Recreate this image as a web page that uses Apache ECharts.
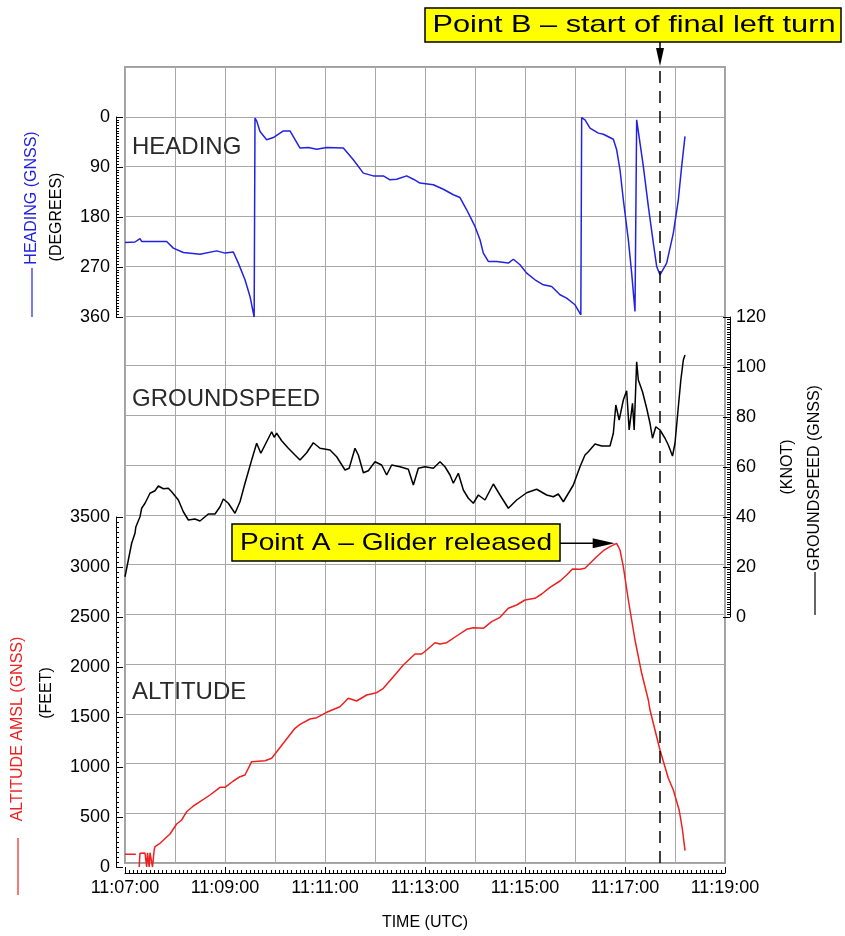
<!DOCTYPE html>
<html><head><meta charset="utf-8">
<script src="https://cdn.jsdelivr.net/npm/echarts@6/dist/echarts.min.js"></script>
<style>html,body{margin:0;padding:0;background:#fff}#c{width:845px;height:936px}</style>
</head><body><div id="c"></div>
<script>
// ---- tick labels ----
const timeTickLabels = ['11:07:00','11:09:00','11:11:00','11:13:00','11:15:00','11:17:00','11:19:00'];
// all times: seconds after 11:07:00
// ---- HEADING (GNSS), degrees ----
const headingSec = [0,12,18,20,50,58,70,90,110,120,130,136,144,150,155,156,158,162,170,178,190,198,210,220,230,242,262,274,286,298,310,318,326,338,346,354,370,382,394,402,410,420,426,430,436,446,460,466,474,482,492,502,512,522,530,540,547,548,552,558,568,574,586,590,594,598,604,608,612,614,616,618,622,628,634,638,642,650,658,664,668,672];
const headingDeg = [226,225,219,224,224,236,244,247,241,245,243,263,293,323,360,2,7,26,41,37,25,25,56,55,58,55,56,77,101,106,106,113,112,106,112,119,122,130,140,145,167,197,221,245,260,260,263,256,266,281,293,302,305,320,326,338,356,1,5,20,29,31,40,59,95,149,221,281,350,5,26,29,89,161,227,269,284,263,209,149,89,35];
// ---- GROUNDSPEED (GNSS), knots ----
const gsSec = [0,4,8,12,13,18,20,24,30,36,40,46,52,56,64,70,76,84,90,100,108,114,118,124,132,138,144,152,158,163,168,176,179,182,188,196,204,210,218,226,234,246,254,264,269,276,280,286,292,300,308,314,320,330,340,346,352,360,362,370,378,384,390,394,400,406,412,418,424,432,442,450,460,470,482,494,506,514,520,526,538,546,552,556,564,572,582,586,589,593,598,602,605,609,611,614,616,621,626,630,633,637,642,648,652,657,660,664,667,670,672];
const gsKnot = [16.1,22.8,29.5,33.5,36,40.1,43.5,45.5,49.5,50.5,52.4,51.3,51.5,50.1,46.8,42.1,38.8,39.2,38.4,41.2,41.2,44.1,47.2,45.5,41.5,46.1,53.5,62.8,69.5,65.5,68.8,74.1,71.9,73.5,70.5,67.5,64.8,62.8,65.7,69.7,67.5,66.8,64.1,58.8,59.5,67.5,64.8,57.7,58.5,62.1,60.8,56.8,60.8,60.1,59.1,52.8,59.5,60.1,59.5,59.5,62.1,60.1,56.8,53.5,57.5,50.8,47.5,45.5,48.8,46.8,53.2,48.8,43.5,46.8,49.7,51.1,48.8,48.1,49.2,46.1,52.8,60.1,64.8,66.1,69.2,68.4,68.4,73.5,84.8,78.8,86.8,90.5,74.8,85.5,74.8,102.1,94.8,90.1,83.5,77.5,71.5,76.1,74.8,71.5,68.8,64.4,69.5,84.1,94.8,102.8,104.8];
// ---- ALTITUDE AMSL (GNSS), feet ----
const altSec = [0,13,15,17,18,24,26,27,29,30,33,35,36,42,54,62,68,74,82,90,102,114,120,130,138,144,152,168,176,190,204,210,222,230,242,258,268,278,290,302,310,322,334,348,356,362,372,378,386,398,410,418,430,440,450,460,470,480,492,500,510,522,530,537,546,552,558,566,574,582,590,594,598,604,612,620,628,630,638,642,652,658,665,669,672];
const altFt = [127,127,null,0,137,140,0,142,0,143,0,170,203,237,330,430,470,553,610,653,720,797,797,860,903,920,1053,1063,1087,1237,1387,1427,1480,1493,1547,1603,1687,1660,1720,1743,1787,1903,2020,2130,2130,2170,2243,2230,2243,2310,2377,2393,2387,2453,2497,2587,2620,2670,2687,2730,2797,2860,2920,2980,2977,2987,3037,3103,3163,3203,3237,3170,3003,2670,2270,1937,1670,1570,1303,1170,887,770,570,370,163];
// ---- annotations ----
const pointBSec = 642;              // 11:17:42
const pointASec = 590, pointAFt = 3237;
const pointBText = 'Point B – start of final left turn';
const pointAText = 'Point A – Glider released';

const FONT = "'Liberation Sans', Arial, sans-serif";
const chart = echarts.init(document.getElementById('c'));
const zip = (a, b) => a.map((v, i) => [v, b[i]]);
const hidX = g => ({gridIndex: g, type: 'value', min: 0, max: 720, show: false});
const yAx = (g, min, max, interval, pos, offset, minor, inverse) => ({
  gridIndex: g, type: 'value', min: min, max: max, interval: interval, inverse: !!inverse,
  position: pos, offset: offset,
  axisLine: {show: true, onZero: false, lineStyle: {color: '#000', width: 1}},
  axisTick: {show: true, inside: true, length: 7, lineStyle: {color: '#000'}},
  minorTick: {show: true, splitNumber: minor, length: 3, lineStyle: {color: '#000'}},
  axisLabel: {fontSize: 18, color: '#000', margin: 6, fontFamily: FONT, formatter: v => String(v)},
  splitLine: {show: false}
});

chart.setOption({
  animation: false,
  backgroundColor: '#fff',
  grid: [
    {left: 125, top: 67, width: 600, height: 800, show: true, borderColor: '#a0a0a0', borderWidth: 2, backgroundColor: 'transparent'},
    {left: 125, top: 117, width: 600, height: 200},
    {left: 125, top: 317, width: 600, height: 300},
    {left: 125, top: 517, width: 600, height: 350}
  ],
  xAxis: [
    {gridIndex: 0, type: 'value', min: 0, max: 720, interval: 60, axisLine: {show: false}, axisTick: {show: false}, axisLabel: {show: false},
     splitLine: {show: true, lineStyle: {color: '#a8a8a8', width: 1}}},
    {gridIndex: 0, type: 'value', min: 0, max: 720, interval: 120, position: 'bottom', offset: 10,
     axisLine: {show: true, onZero: false, lineStyle: {color: '#000'}},
     axisTick: {show: true, inside: true, length: 6, lineStyle: {color: '#000'}},
     minorTick: {show: true, splitNumber: 24, length: 3, lineStyle: {color: '#000'}},
     axisLabel: {formatter: v => timeTickLabels[Math.round(v / 120)], fontSize: 18, color: '#000', margin: 6, fontFamily: FONT},
     splitLine: {show: false},
     name: 'TIME (UTC)', nameLocation: 'middle', nameGap: 42, nameTextStyle: {fontSize: 16, color: '#000', fontFamily: FONT}},
    hidX(1), hidX(2), hidX(3)
  ],
  yAxis: [
    {gridIndex: 0, type: 'value', min: 0, max: 16, interval: 1, axisLine: {show: false}, axisTick: {show: false}, axisLabel: {show: false},
     splitLine: {show: true, lineStyle: {color: '#a8a8a8', width: 1}}},
    yAx(1, 0, 360, 90, 'left', 9, 18, true),
    yAx(2, 0, 120, 20, 'right', 5, 20, false),
    yAx(3, 0, 3500, 500, 'left', 9, 10, false)
  ],
  series: [
    {type: 'line', xAxisIndex: 0, yAxisIndex: 0, data: [], silent: true,
     markLine: {symbol: ['none', 'none'], silent: true, label: {show: false},
       lineStyle: {color: '#000', type: [12, 8], width: 1.5}, data: [{xAxis: pointBSec}]}},
    {type: 'line', xAxisIndex: 2, yAxisIndex: 1, data: zip(headingSec, headingDeg), showSymbol: false,
     lineStyle: {color: '#2222e0', width: 1.5}},
    {type: 'line', xAxisIndex: 3, yAxisIndex: 2, data: zip(gsSec, gsKnot), showSymbol: false,
     lineStyle: {color: '#000', width: 1.5}},
    {type: 'line', xAxisIndex: 4, yAxisIndex: 3, data: zip(altSec, altFt), showSymbol: false, connectNulls: false,
     lineStyle: {color: '#ee2020', width: 1.5}}
  ]
});

const bx = chart.convertToPixel({xAxisIndex: 0}, pointBSec);
const pa = chart.convertToPixel({gridIndex: 3}, [pointASec, pointAFt]);
const vtext = (x, y, txt, color) => ({type: 'text', x: x, y: y, rotation: Math.PI / 2,
  style: {text: txt, x: 0, y: 0, align: 'center', verticalAlign: 'middle', fill: color, font: '16px ' + FONT}});
const vline = (x, y1, y2, color) => ({type: 'line', shape: {x1: x, y1: y1, x2: x, y2: y2}, style: {stroke: color, lineWidth: 1.2}});
const ltext = (x, y, txt) => ({type: 'text', style: {text: txt, x: x, y: y, align: 'left', verticalAlign: 'middle', fill: '#2a2a2a', font: '24px ' + FONT}});
const boxText = (x, y, txt, sx) => ({type: 'text', x: x, y: y, scaleX: sx,
  style: {text: txt, x: 0, y: 0, align: 'center', verticalAlign: 'middle', fill: '#000', font: '24px ' + FONT}});

chart.setOption({graphic: [
  ltext(132, 147, 'HEADING'),
  ltext(132, 399, 'GROUNDSPEED'),
  ltext(132, 692, 'ALTITUDE'),
  vtext(32, 198, 'HEADING (GNSS)', '#2222e0'), vline(32, 268, 317, '#2222e0'),
  vtext(57, 217, '(DEGREES)', '#000'),
  vtext(18, 729, 'ALTITUDE AMSL (GNSS)', '#ee2020'), vline(18, 838, 895, '#ee2020'),
  vtext(47, 693, '(FEET)', '#000'),
  vtext(788, 467, '(KNOT)', '#000'),
  vtext(815, 478, 'GROUNDSPEED (GNSS)', '#000'), vline(815, 572, 615, '#000'),
  // Point B
  {type: 'rect', shape: {x: 425, y: 8, width: 416, height: 34}, style: {fill: '#ffff00', stroke: '#000', lineWidth: 1.5}},
  boxText(634, 25, pointBText, 1.28),
  {type: 'line', shape: {x1: bx, y1: 42, x2: bx, y2: 50}, style: {stroke: '#000', lineWidth: 1.5}},
  {type: 'polygon', shape: {points: [[bx - 4, 48], [bx + 4, 48], [bx, 66]]}, style: {fill: '#000'}},
  // Point A
  {type: 'rect', shape: {x: 232, y: 524, width: 328, height: 37}, style: {fill: '#ffff00', stroke: '#000', lineWidth: 1.5}},
  boxText(396, 543, pointAText, 1.17),
  {type: 'line', shape: {x1: 560, y1: pa[1], x2: pa[0] - 20, y2: pa[1]}, style: {stroke: '#000', lineWidth: 1.5}},
  {type: 'polygon', shape: {points: [[pa[0] - 24, pa[1] - 5], [pa[0] - 24, pa[1] + 5], [pa[0] - 2, pa[1]]]}, style: {fill: '#000'}}
]});
</script>
</body></html>
